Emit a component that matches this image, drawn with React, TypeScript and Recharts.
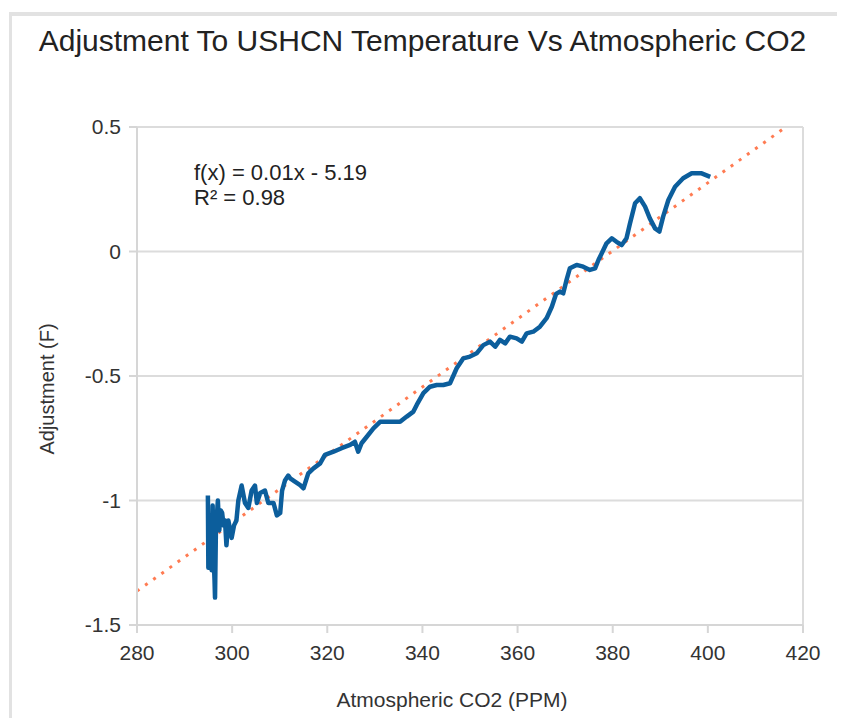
import React from 'react';
import { LineChart, Line, XAxis, YAxis, CartesianGrid, ReferenceLine } from 'recharts';

// CO2 (ppm) vs USHCN adjustment (F)
const co2 = [
  294.9, 295.0, 295.3, 295.5, 295.7, 295.9, 296.1, 296.3, 296.4, 296.6,
  296.8, 297.0, 297.3, 297.6, 297.9, 298.2, 298.5, 298.8, 299.2, 299.6,
  299.9, 300.4, 300.9, 301.3, 302.0, 302.7, 303.4, 304.1, 304.8, 305.2,
  305.9, 306.9, 307.6, 308.7, 309.4, 310.1, 310.5, 311.1, 311.8, 312.2,
  313.2, 314.3, 315.0, 316.0, 317.1, 318.5, 319.5, 321.3, 323.0, 324.8,
  325.8, 326.5, 327.2, 328.3, 329.7, 331.1, 333.2, 335.3, 336.7, 338.1,
  338.8, 340.2, 341.6, 343.0, 344.4, 345.8, 347.2, 348.6, 350.0, 351.4,
  352.8, 354.2, 355.3, 356.3, 357.4, 358.4, 359.8, 360.9, 361.9, 363.3,
  364.7, 366.1, 367.2, 368.1, 368.9, 369.6, 370.3, 371.0, 372.4, 373.8,
  375.2, 376.3, 377.0, 377.7, 378.7, 379.8, 380.8, 381.9, 382.9, 383.6,
  384.7, 385.7, 386.8, 387.8, 388.9, 389.8, 390.6, 391.7, 393.1, 394.8,
  396.6, 398.7, 400.5,
];
const adjustment = [
  -0.98, -1.27, -1.06, -1.24, -1.28, -1.02, -1.22, -1.32, -1.39, -1.10,
  -1.06, -1.0, -1.12, -1.04, -1.05, -1.10, -1.08, -1.18, -1.08, -1.12,
  -1.15, -1.10, -1.08, -1.0, -0.94, -1.01, -1.03, -0.96, -0.94, -1.01,
  -0.97, -0.96, -1.01, -1.01, -1.06, -1.05, -0.96, -0.92, -0.9, -0.911,
  -0.924, -0.938, -0.951, -0.891, -0.871, -0.851, -0.817, -0.804, -0.79, -0.777,
  -0.764, -0.804, -0.77, -0.744, -0.71, -0.684, -0.684, -0.684, -0.663, -0.643,
  -0.616, -0.569, -0.543, -0.536, -0.536, -0.529, -0.469, -0.429, -0.422, -0.409,
  -0.376, -0.362, -0.382, -0.355, -0.369, -0.342, -0.349, -0.362, -0.329, -0.322,
  -0.302, -0.268, -0.222, -0.17, -0.161, -0.168, -0.114, -0.067, -0.054, -0.061,
  -0.074, -0.068, -0.034, -0.007, 0.033, 0.053, 0.039, 0.026, 0.053, 0.11,
  0.194, 0.214, 0.18, 0.133, 0.093, 0.08, 0.14, 0.207, 0.26, 0.294,
  0.314, 0.314, 0.3,
];

// linear trend, end points
const trendX = [280, 416.4];
const trendY = [-1.364, 0.5];

const xTicks = [280, 300, 320, 340, 360, 380, 400, 420];
const yTicks = [-1.5, -1, -0.5, 0, 0.5];

const series = co2.map((x, i) => ({ x, y: adjustment[i] }));
const trend = trendX.map((x, i) => ({ x, y: trendY[i] }));

const font = '"Liberation Sans", Arial, sans-serif';
const tickStyle = { fontSize: 21, fill: '#333', fontFamily: font };

export default function App() {
  return (
    <div style={{ position: 'relative', width: 845, height: 726, margin: -8, background: '#fff', overflow: 'hidden' }}>
      <div style={{ position: 'absolute', left: 9, top: 12, width: 826, height: 706, border: '3px solid #e2e2e2', borderTopWidth: 4 }} />
      <div style={{ position: 'absolute', left: 0, top: 24, width: 845, textAlign: 'center', fontFamily: font, fontSize: 30, color: '#222' }}>
        Adjustment To USHCN Temperature Vs Atmospheric CO2
      </div>
      <div style={{ position: 'absolute', left: 194, top: 160, fontFamily: font, fontSize: 22, color: '#222', lineHeight: '25px' }}>
        <div>f(x) = 0.01x - 5.19</div>
        <div>R² = 0.98</div>
      </div>
      <div style={{ position: 'absolute', left: 47, top: 389, transform: 'translate(-50%, -50%) rotate(-90deg)', whiteSpace: 'nowrap', fontFamily: font, fontSize: 20, color: '#333' }}>
        Adjustment (F)
      </div>
      <div style={{ position: 'absolute', left: 452, top: 688, transform: 'translateX(-50%)', whiteSpace: 'nowrap', fontFamily: font, fontSize: 21, color: '#333' }}>
        Atmospheric CO2 (PPM)
      </div>
      <div style={{ position: 'absolute', left: 0, top: 0 }}>
        <LineChart width={845} height={726} margin={{ top: 127, right: 42, bottom: 61, left: 67 }}>
          <CartesianGrid vertical={false} stroke="#dcdcdc" strokeWidth={2} />
          <XAxis
            type="number"
            dataKey="x"
            domain={[280, 420]}
            ticks={xTicks}
            height={40}
            allowDataOverflow
            tick={tickStyle}
            tickLine={{ stroke: '#d6d6d6', strokeWidth: 2 }}
            axisLine={{ stroke: '#d6d6d6', strokeWidth: 2 }}
            tickSize={8}
            tickMargin={12}
          />
          <YAxis
            type="number"
            domain={[-1.5, 0.5]}
            ticks={yTicks}
            width={70}
            allowDataOverflow
            tick={tickStyle}
            tickLine={{ stroke: '#d6d6d6', strokeWidth: 2 }}
            axisLine={{ stroke: '#d6d6d6', strokeWidth: 2 }}
            tickSize={8}
            tickMargin={8}
          />
          <ReferenceLine x={420} stroke="#dcdcdc" strokeWidth={2} />
          <Line
            data={trend}
            dataKey="y"
            type="linear"
            stroke="#ff7b52"
            strokeWidth={3}
            strokeDasharray="3 7"
            dot={false}
            isAnimationActive={false}
          />
          <Line
            data={series}
            dataKey="y"
            type="linear"
            stroke="#0c5e9c"
            strokeWidth={4.5}
            strokeLinejoin="round"
            dot={false}
            isAnimationActive={false}
          />
        </LineChart>
      </div>
    </div>
  );
}
